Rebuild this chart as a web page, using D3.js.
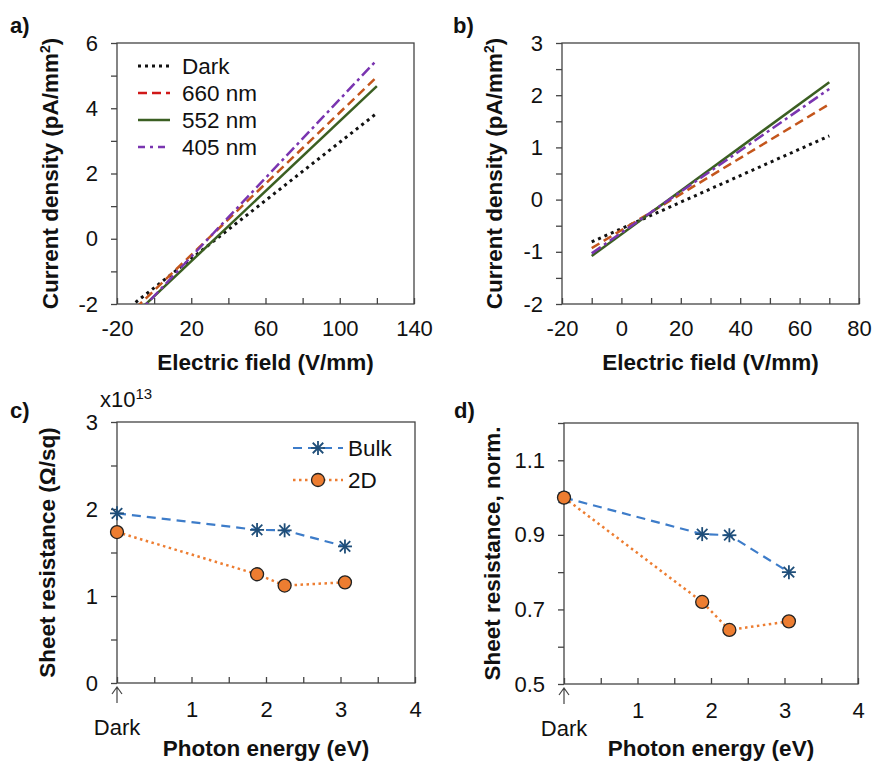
<!DOCTYPE html>
<html>
<head>
<meta charset="utf-8">
<script src="https://cdn.jsdelivr.net/npm/d3@7"></script>
<style>
  body { margin: 0; background: #fff; }
  svg { font-family: "Liberation Sans", Arial, sans-serif; }
  .axis path, .axis line { stroke: #444; stroke-width: 1.3; }
  .axis text { font-size: 22px; fill: #111; font-family: "Liberation Sans", Arial, sans-serif; }
  .title { font-size: 22.5px; font-weight: bold; fill: #111; }
  .plabel { font-size: 22px; font-weight: bold; fill: #111; }
</style>
</head>
<body>
<script>
// ---- data ----
// panels a and b: straight I-V fits, two end points each
var ivSeries = ["Dark", "660 nm", "552 nm", "405 nm"];
var ivA_x = [-10, 120];
var ivA_dark = [-1.95, 3.85];
var ivA_660 = [-2.13, 4.96];
var ivA_552 = [-2.30, 4.68];
var ivA_405 = [-2.36, 5.48];
var ivB_x = [-10, 70];
var ivB_dark = [-0.81, 1.22];
var ivB_660 = [-0.93, 1.83];
var ivB_552 = [-1.08, 2.25];
var ivB_405 = [-1.03, 2.12];

// panels c and d: sheet resistance vs photon energy (0 = Dark)
var photonEnergy = [0, 1.88, 2.25, 3.06];
var rsBulk = [1.95, 1.76, 1.755, 1.57];     // x10^13 Ohm/sq
var rs2D = [1.735, 1.25, 1.12, 1.157];
var rsBulkNorm = [1.0, 0.902, 0.899, 0.80];
var rs2DNorm = [1.0, 0.72, 0.645, 0.668];

var svg = d3.select("body").append("svg")
    .attr("width", 872)
    .attr("height", 762);

// styles for the four I-V curves
var ivStyle = {
    "Dark":   {color: "#111", legend: "#111", dash: "3,4", width: 3},
    "660 nm": {color: "#c4561c", legend: "#d01818", dash: "9,5", width: 2.5},
    "552 nm": {color: "#3b5f22", legend: "#3b5f22", dash: null, width: 2.5},
    "405 nm": {color: "#7a35b0", legend: "#7a35b0", dash: "11,4,3,4", width: 2.5}
};

//draws frame + axes for one panel
function panel(opt) {
    var g = svg.append("g");
    var x = d3.scaleLinear().domain(opt.xd).range([opt.l, opt.r]);
    var y = d3.scaleLinear().domain(opt.yd).range([opt.b, opt.t]);

    g.append("rect")
        .attr("x", opt.l).attr("y", opt.t)
        .attr("width", opt.r - opt.l).attr("height", opt.b - opt.t)
        .attr("fill", "none").attr("stroke", "#444").attr("stroke-width", 1.3);

    g.append("g").attr("class", "axis")
        .attr("transform", "translate(0," + opt.b + ")")
        .call(d3.axisBottom(x).tickValues(opt.xt).tickSizeInner(-6).tickSizeOuter(0)
            .tickPadding(opt.xpad).tickFormat(opt.xf))
        .call(function(s) { s.select(".domain").remove(); });

    g.append("g").attr("class", "axis")
        .attr("transform", "translate(" + opt.l + ",0)")
        .call(d3.axisLeft(y).tickValues(opt.yt).tickSizeInner(6).tickSizeOuter(0)
            .tickPadding(13).tickFormat(opt.yf))
        .call(function(s) { s.select(".domain").remove(); });

    g.append("text").attr("class", "title")
        .attr("x", (opt.l + opt.r) / 2).attr("y", opt.xty)
        .attr("text-anchor", "middle").text(opt.xtitle);

    var ty = g.append("text").attr("class", "title")
        .attr("transform", "translate(" + opt.ytx + "," + (opt.t + opt.b) / 2 + ") rotate(-90)")
        .attr("text-anchor", "middle");
    opt.ytitle(ty);

    svg.append("text").attr("class", "plabel")
        .attr("x", opt.lx).attr("y", opt.ly).text(opt.label);

    return {g: g, x: x, y: y};
}

// label every second tick, plain hyphen minus like the original
function everyOther(step, first) {
    return function(d) {
        var k = Math.round((d - first) / step);
        return k % 2 === 0 ? String(+d.toFixed(2)) : "";
    };
}

function currentTitle(t) {
    t.append("tspan").text("Current density (pA/mm");
    t.append("tspan").attr("dy", -8).style("font-size", "14px").text("2");
    t.append("tspan").attr("dy", 8).text(")");
}

// ---------- panel a ----------
var pa = panel({
    l: 117, r: 414, t: 43, b: 304,
    xd: [-20, 140], yd: [-2, 6],
    xt: d3.range(-20, 141, 20), yt: d3.range(-2, 6.01, 1),
    xf: everyOther(20, -20), yf: everyOther(1, -2), xpad: 16,
    xtitle: "Electric field (V/mm)", xty: 370,
    ytitle: currentTitle, ytx: 58,
    label: "a)", lx: 10, ly: 33
});

// ---------- panel b ----------
var pb = panel({
    l: 562, r: 859, t: 43, b: 304,
    xd: [-20, 80], yd: [-2, 3],
    xt: d3.range(-20, 81, 10), yt: d3.range(-2, 3.01, 0.5),
    xf: everyOther(10, -20), yf: everyOther(0.5, -2), xpad: 16,
    xtitle: "Electric field (V/mm)", xty: 370,
    ytitle: currentTitle, ytx: 502,
    label: "b)", lx: 453, ly: 33
});

function drawIV(p, xs, ys, id) {
    svg.append("clipPath").attr("id", id)
        .append("rect")
        .attr("x", p.x.range()[0]).attr("y", p.y.range()[1])
        .attr("width", p.x.range()[1] - p.x.range()[0])
        .attr("height", p.y.range()[0] - p.y.range()[1]);
    var line = d3.line().x(function(d) { return p.x(d[0]); }).y(function(d) { return p.y(d[1]); });
    ivSeries.forEach(function(name, i) {
        var st = ivStyle[name];
        p.g.append("path")
            .datum(d3.zip(xs, ys[i]))
            .attr("clip-path", "url(#" + id + ")")
            .attr("d", line)
            .attr("fill", "none")
            .attr("stroke", st.color)
            .attr("stroke-width", st.width)
            .attr("stroke-dasharray", st.dash);
    });
}
drawIV(pa, ivA_x, [ivA_dark, ivA_660, ivA_552, ivA_405], "clipA");
drawIV(pb, ivB_x, [ivB_dark, ivB_660, ivB_552, ivB_405], "clipB");

//legend of panel a
ivSeries.forEach(function(name, i) {
    var st = ivStyle[name];
    var yy = 66 + i * 27;
    pa.g.append("line")
        .attr("x1", 138).attr("x2", 170).attr("y1", yy).attr("y2", yy)
        .attr("stroke", st.legend).attr("stroke-width", st.width)
        .attr("stroke-dasharray", st.dash === "11,4,3,4" ? "7,5,3,5" : st.dash);
    pa.g.append("text")
        .attr("x", 182).attr("y", yy + 8)
        .style("font-size", "22.5px").attr("fill", "#111")
        .text(name);
});

// ---------- panel c / d ----------
function energyFmt(d) { return d === 0 ? "" : String(d); }

var pc = panel({
    l: 117, r: 415, t: 422, b: 683,
    xd: [0, 4], yd: [0, 3],
    xt: d3.range(0, 4.01, 0.5), yt: d3.range(0, 3.01, 0.5),
    xf: function(d) { return d % 1 === 0 ? energyFmt(d) : ""; },
    yf: everyOther(0.5, 0), xpad: 18,
    xtitle: "Photon energy (eV)", xty: 756,
    ytitle: function(t) { t.text("Sheet resistance (\u03A9/sq)"); }, ytx: 55,
    label: "c)", lx: 10, ly: 418
});

var pd = panel({
    l: 564, r: 858, t: 423, b: 684,
    xd: [0, 4], yd: [0.5, 1.2],
    xt: d3.range(0, 4.01, 0.5), yt: d3.range(0.5, 1.201, 0.1),
    xf: function(d) { return d % 1 === 0 ? energyFmt(d) : ""; },
    yf: function(d) { var k = Math.round((d - 0.5) / 0.1); return k % 2 === 0 ? d.toFixed(1) : ""; },
    xpad: 18,
    xtitle: "Photon energy (eV)", xty: 756,
    ytitle: function(t) { t.text("Sheet resistance, norm."); }, ytx: 500,
    label: "d)", lx: 454, ly: 418
});

// x10^13 multiplier
var mult = svg.append("text").attr("x", 100).attr("y", 407).style("font-size", "22px").attr("fill", "#111");
mult.append("tspan").text("x10");
mult.append("tspan").attr("dy", -8).style("font-size", "15px").text("13");

// "Dark" arrow under x = 0
[pc, pd].forEach(function(p) {
    var x0 = p.x(0), y0 = p.y.range()[0];
    p.g.append("path")
        .attr("d", "M" + x0 + "," + (y0 + 20) + "V" + (y0 + 4) +
              "M" + (x0 - 5) + "," + (y0 + 11) + "L" + x0 + "," + (y0 + 4) + "L" + (x0 + 5) + "," + (y0 + 11))
        .attr("fill", "none").attr("stroke", "#444").attr("stroke-width", 1.2);
    p.g.append("text")
        .attr("x", x0).attr("y", y0 + 52)
        .attr("text-anchor", "middle")
        .style("font-size", "22px").attr("fill", "#111")
        .text("Dark");
});

var bulkColor = "#3d7cc9", bulkMark = "#1f4e79", twoDColor = "#ed7d31";

function asterisk(g, cx, cy) {
    var r = 7;
    var a = g.append("g").attr("transform", "translate(" + cx + "," + cy + ")")
        .attr("stroke", bulkMark).attr("stroke-width", 1.8);
    a.append("line").attr("x1", -r).attr("x2", r).attr("y1", 0).attr("y2", 0);
    a.append("line").attr("x1", 0).attr("x2", 0).attr("y1", -r).attr("y2", r);
    a.append("line").attr("x1", -r * 0.75).attr("x2", r * 0.75).attr("y1", -r * 0.75).attr("y2", r * 0.75);
    a.append("line").attr("x1", -r * 0.75).attr("x2", r * 0.75).attr("y1", r * 0.75).attr("y2", -r * 0.75);
}

function drawRs(p, bulk, twoD) {
    var line = d3.line().x(function(d) { return p.x(d[0]); }).y(function(d) { return p.y(d[1]); });
    p.g.append("path").datum(d3.zip(photonEnergy, bulk))
        .attr("d", line).attr("fill", "none")
        .attr("stroke", bulkColor).attr("stroke-width", 2.2).attr("stroke-dasharray", "9,6");
    p.g.append("path").datum(d3.zip(photonEnergy, twoD))
        .attr("d", line).attr("fill", "none")
        .attr("stroke", twoDColor).attr("stroke-width", 2.5).attr("stroke-dasharray", "2.5,3.5");
    bulk.forEach(function(v, i) { asterisk(p.g, p.x(photonEnergy[i]), p.y(v)); });
    p.g.selectAll("circle.m").data(d3.zip(photonEnergy, twoD)).enter()
        .append("circle").attr("class", "m")
        .attr("cx", function(d) { return p.x(d[0]); })
        .attr("cy", function(d) { return p.y(d[1]); })
        .attr("r", 6.5)
        .attr("fill", twoDColor).attr("stroke", "#222").attr("stroke-width", 1.3);
}
drawRs(pc, rsBulk, rs2D);
drawRs(pd, rsBulkNorm, rs2DNorm);

// legend of panel c
pc.g.append("line").attr("x1", 293).attr("x2", 343).attr("y1", 448).attr("y2", 448)
    .attr("stroke", bulkColor).attr("stroke-width", 2.2).attr("stroke-dasharray", "9,6");
asterisk(pc.g, 318, 448);
pc.g.append("text").attr("x", 348).attr("y", 456).style("font-size", "22.5px").attr("fill", "#111").text("Bulk");
pc.g.append("line").attr("x1", 293).attr("x2", 343).attr("y1", 480).attr("y2", 480)
    .attr("stroke", twoDColor).attr("stroke-width", 2.5).attr("stroke-dasharray", "2.5,3.5");
pc.g.append("circle").attr("cx", 318).attr("cy", 480).attr("r", 6.5)
    .attr("fill", twoDColor).attr("stroke", "#222").attr("stroke-width", 1.3);
pc.g.append("text").attr("x", 348).attr("y", 488).style("font-size", "22.5px").attr("fill", "#111").text("2D");
</script>
</body>
</html>
